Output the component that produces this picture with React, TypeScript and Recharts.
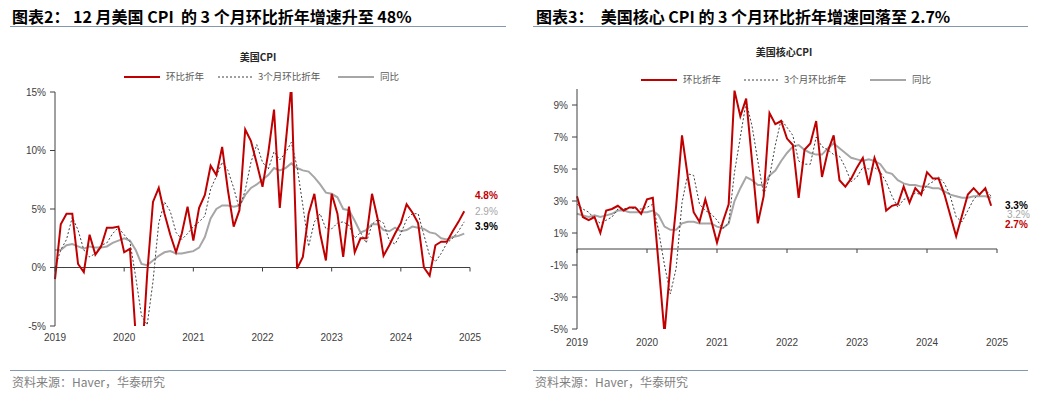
import React from 'react';
import { LineChart, Line, XAxis, YAxis, ReferenceLine } from 'recharts';

// 美国CPI / 美国核心CPI：环比折年、3个月环比折年、同比（月度，2019-01 ~ 2024-12）
const LATIN = '"Liberation Sans", Arial, "Noto Sans CJK SC", sans-serif';
const CJK = '"Noto Sans CJK SC", "Liberation Sans", sans-serif';

const RED = '#c00000';
const DARK = '#404040';
const GREY = '#a6a6a6';
const RULE = '#8397ad';

const yearLabels = ['2019', '2020', '2021', '2022', '2023', '2024', '2025'];
const yearTicks = [0, 12, 24, 36, 48, 60, 72];

// ---- 图表2：美国CPI ----
const cpiMom = [
  -1.0, 3.7, 4.6, 4.6, 0.3, -0.4, 2.8, 1.1, 1.8, 3.4, 3.4, 3.5,
  1.3, 1.6, -5.8, -8.5, -0.5, 5.6, 6.8, 4.6, 2.8, 1.3, 2.9, 5.2,
  2.3, 5.1, 6.2, 8.7, 7.9, 10.3, 6.6, 3.5, 4.9, 11.8, 10.8, 8.9,
  6.9, 9.8, 13.5, 5.1, 10.5, 15.6, -0.1, 0.9, 4.6, 6.3, 2.9, 0.6,
  6.3, 4.6, 0.9, 5.2, 1.3, 2.5, 2.5, 6.3, 4.1, 1.0, 1.9, 2.9,
  3.8, 5.4, 4.7, 3.8, 0.0, -0.7, 1.9, 2.2, 2.2, 3.1, 3.9, 4.8,
];
const cpi3m = [
  0.0, 1.5, 2.4, 4.3, 3.2, 1.5, 0.9, 1.2, 1.9, 2.1, 2.9, 3.4,
  2.8, 2.2, -0.8, -4.1, -4.9, -1.2, 3.8, 5.6, 4.8, 3.0, 2.4, 2.9,
  3.5, 3.9, 4.4, 6.7, 7.8, 9.0, 8.3, 6.8, 5.0, 6.6, 9.0, 10.5,
  9.0, 8.4, 9.9, 9.2, 9.8, 10.7, 8.6, 5.3, 1.8, 3.9, 4.6, 3.3,
  3.3, 3.8, 3.9, 3.6, 2.5, 3.0, 2.1, 3.7, 4.1, 3.8, 2.3, 2.0,
  2.9, 4.1, 4.6, 4.6, 2.8, 1.0, 0.5, 1.2, 2.1, 2.5, 3.1, 3.9,
];
const cpiYoy = [
  1.5, 1.5, 1.9, 2.0, 1.8, 1.6, 1.8, 1.7, 1.7, 1.8, 2.1, 2.3,
  2.5, 2.3, 1.5, 0.3, 0.2, 0.6, 1.0, 1.3, 1.4, 1.2, 1.2, 1.3,
  1.4, 1.7, 2.6, 4.2, 5.0, 5.3, 5.3, 5.2, 5.3, 6.2, 6.8, 7.1,
  7.5, 7.9, 8.5, 8.3, 8.5, 8.9, 8.5, 8.3, 8.2, 7.7, 7.1, 6.4,
  6.3, 6.0, 5.0, 4.9, 4.0, 3.0, 3.2, 3.7, 3.7, 3.2, 3.1, 3.4,
  3.1, 3.2, 3.5, 3.4, 3.3, 3.0, 2.9, 2.5, 2.4, 2.6, 2.7, 2.9,
];

// ---- 图表3：美国核心CPI ----
const coreMom = [
  3.3, 2.0, 1.8, 2.0, 1.0, 2.4, 2.5, 2.7, 2.4, 2.6, 2.6, 2.2,
  3.1, 3.2, -1.0, -5.3, -1.0, 2.7, 7.1, 4.5, 2.3, 1.7, 3.1, 1.8,
  0.4, 1.7, 2.8, 9.9, 8.3, 9.4, 5.5, 1.6, 3.3, 8.5, 7.8, 8.0,
  6.9, 6.5, 3.2, 6.2, 6.6, 8.0, 4.5, 6.1, 7.1, 4.3, 3.9, 4.4,
  5.1, 5.7, 4.0, 5.7, 4.7, 2.4, 2.7, 2.8, 3.9, 2.9, 3.8, 3.4,
  4.8, 4.4, 4.4, 3.4, 2.1, 0.8, 2.1, 3.4, 3.8, 3.4, 3.8, 2.7,
];
const core3m = [
  2.8, 2.5, 2.3, 1.9, 1.6, 1.8, 2.0, 2.5, 2.5, 2.6, 2.5, 2.5,
  2.6, 2.8, 1.1, -1.0, -2.8, -1.2, 2.9, 4.7, 4.6, 2.8, 2.4, 2.2,
  1.8, 1.3, 1.6, 4.8, 7.0, 9.2, 7.7, 5.5, 3.4, 4.5, 6.5, 8.1,
  7.6, 7.1, 5.5, 5.3, 5.3, 7.0, 6.4, 6.2, 5.9, 5.8, 5.1, 4.2,
  4.5, 5.1, 5.0, 5.1, 4.8, 4.2, 3.3, 2.6, 3.1, 3.2, 3.5, 3.4,
  4.0, 4.2, 4.5, 4.1, 3.3, 2.0, 1.7, 2.4, 3.1, 3.5, 3.7, 3.3,
];
const coreYoy = [
  2.2, 2.1, 2.0, 2.1, 2.0, 2.1, 2.2, 2.4, 2.4, 2.3, 2.3, 2.3,
  2.3, 2.4, 2.1, 1.4, 1.2, 1.2, 1.6, 1.7, 1.7, 1.6, 1.6, 1.6,
  1.4, 1.3, 1.6, 3.0, 3.8, 4.5, 4.3, 4.0, 4.0, 4.6, 4.9, 5.5,
  6.0, 6.4, 6.5, 6.2, 6.0, 5.9, 5.9, 6.3, 6.6, 6.3, 6.0, 5.7,
  5.6, 5.5, 5.6, 5.5, 5.3, 4.8, 4.7, 4.3, 4.1, 4.0, 4.0, 3.9,
  3.9, 3.8, 3.8, 3.6, 3.4, 3.3, 3.2, 3.2, 3.3, 3.3, 3.3, 3.2,
];

const legendItems = ['环比折年', '3个月环比折年', '同比'];

const buildRows = (mom: number[], m3: number[], yoy: number[]) =>
  mom.map((v, i) => ({ i, mom: v, m3: m3[i], yoy: yoy[i] }));

const cpiRows = buildRows(cpiMom, cpi3m, cpiYoy);
const coreRows = buildRows(coreMom, core3m, coreYoy);

// year label at the bottom + small tick mark hanging from the 0% line
const YearTick = (props: any) => {
  const { x, y, payload, zeroY, labelGap } = props;
  const idx = yearTicks.indexOf(payload.value);
  return (
    <g>
      <line x1={x} x2={x} y1={zeroY} y2={zeroY + 4} stroke={DARK} strokeWidth={1} />
      <text x={x} y={y + labelGap} dy="0.35em" textAnchor="middle" fontSize={10} fill={DARK} fontFamily={LATIN}>
        {yearLabels[idx]}
      </text>
    </g>
  );
};

function Legend({ y, red, dash, grey }: { y: number; red: number; dash: number; grey: number }) {
  const lw = 36;
  const text = { fontSize: 9.5, fill: '#595959', fontFamily: CJK } as const;
  return (
    <svg style={{ position: 'absolute', left: 0, top: 0, overflow: 'visible' }} width={1} height={1}>
      <line x1={red} x2={red + lw} y1={y} y2={y} stroke={RED} strokeWidth={2} />
      <text x={red + lw + 6} y={y} dy="0.35em" {...text}>{legendItems[0]}</text>
      <line x1={dash} x2={dash + lw} y1={y} y2={y} stroke={DARK} strokeWidth={1} strokeDasharray="2 2" />
      <text x={dash + lw + 4} y={y} dy="0.35em" {...text}>{legendItems[1]}</text>
      <line x1={grey} x2={grey + lw} y1={y} y2={y} stroke={GREY} strokeWidth={2} />
      <text x={grey + lw + 6} y={y} dy="0.35em" {...text}>{legendItems[2]}</text>
    </svg>
  );
}

type ChartCfg = {
  rows: any[];
  left: number;
  width: number;
  margin: { top: number; right: number; bottom: number; left: number };
  yWidth: number;
  domain: [number, number];
  ticks: number[];
  plotH: number;
  labelGap: number;
};

function SeriesChart({ cfg }: { cfg: ChartCfg }) {
  const zeroY = cfg.margin.top + (cfg.plotH * cfg.domain[1]) / (cfg.domain[1] - cfg.domain[0]);
  return (
    <div style={{ position: 'absolute', left: cfg.left, top: 80 }}>
      <LineChart width={cfg.width} height={280} data={cfg.rows} margin={cfg.margin}>
        <XAxis
          dataKey="i"
          type="number"
          domain={[0, 72]}
          ticks={yearTicks}
          axisLine={false}
          tickLine={false}
          tickSize={0}
          tickMargin={0}
          height={20}
          interval={0}
          tick={<YearTick zeroY={zeroY} labelGap={cfg.labelGap} />}
        />
        <YAxis
          domain={cfg.domain}
          ticks={cfg.ticks}
          allowDataOverflow
          width={cfg.yWidth}
          interval={0}
          tickFormatter={(v: number) => `${v}%`}
          axisLine={{ stroke: DARK, strokeWidth: 1 }}
          tickLine={{ stroke: DARK, strokeWidth: 1 }}
          tickSize={5}
          tickMargin={4}
          tick={{ fontSize: 10, fill: DARK, fontFamily: LATIN }}
        />
        <ReferenceLine y={0} stroke={DARK} strokeWidth={1} />
        <Line dataKey="yoy" stroke={GREY} strokeWidth={2} dot={false} isAnimationActive={false} type="linear" />
        <Line dataKey="m3" stroke={DARK} strokeWidth={1} strokeDasharray="2 2" dot={false} isAnimationActive={false} type="linear" />
        <Line dataKey="mom" stroke={RED} strokeWidth={2} dot={false} isAnimationActive={false} type="linear" />
      </LineChart>
    </div>
  );
}

const headStyle: React.CSSProperties = {
  position: 'absolute',
  fontFamily: CJK,
  fontWeight: 700,
  fontSize: 16,
  color: '#000',
  whiteSpace: 'nowrap',
  lineHeight: '18px',
};
const subStyle: React.CSSProperties = {
  position: 'absolute',
  fontFamily: CJK,
  fontWeight: 700,
  fontSize: 10,
  color: '#262626',
  whiteSpace: 'nowrap',
  transform: 'translateX(-50%)',
  lineHeight: '12px',
};
const srcStyle: React.CSSProperties = {
  position: 'absolute',
  fontFamily: CJK,
  fontSize: 12,
  color: '#7f7f7f',
  whiteSpace: 'nowrap',
  lineHeight: '14px',
};
const endLabel = (top: number, left: number, color: string, bold: boolean): React.CSSProperties => ({
  position: 'absolute',
  top: top - 4.5,
  left,
  color,
  fontFamily: LATIN,
  fontSize: 10,
  fontWeight: bold ? 700 : 400,
  lineHeight: '9px',
  height: 9,
  whiteSpace: 'nowrap',
});

export default function App() {
  const cpiCfg: ChartCfg = {
    rows: cpiRows,
    left: 0,
    width: 520,
    margin: { top: 12, right: 50, bottom: 14, left: 10 },
    yWidth: 45,
    domain: [-5, 15],
    ticks: [-5, 0, 5, 10, 15],
    plotH: 234,
    labelGap: 11,
  };
  const coreCfg: ChartCfg = {
    rows: coreRows,
    left: 520,
    width: 522,
    margin: { top: 9, right: 45, bottom: 11, left: 10 },
    yWidth: 47,
    domain: [-5, 10],
    ticks: [-5, -3, -1, 1, 3, 5, 7, 9],
    plotH: 240,
    labelGap: 13,
  };

  return (
    <div style={{ position: 'absolute', left: 0, top: 0, width: 1042, height: 397, background: '#fff', overflow: 'hidden' }}>
      {/* 左：图表2 */}
      <div style={{ ...headStyle, left: 12, top: 7 }}>图表2：&nbsp;12 月美国 CPI&nbsp; 的 3 个月环比折年增速升至 48%</div>
      <div style={{ position: 'absolute', left: 10, top: 26, width: 496, height: 1, background: RULE }} />
      <div style={{ ...subStyle, left: 258, top: 51 }}>美国CPI</div>
      <SeriesChart cfg={cpiCfg} />
      <Legend y={77} red={124} dash={218} grey={338} />
      <div style={endLabel(195, 475, RED, true)}>4.8%</div>
      <div style={endLabel(211, 475, GREY, false)}>2.9%</div>
      <div style={endLabel(226, 475, '#000', true)}>3.9%</div>
      <div style={{ position: 'absolute', left: 10, top: 370, width: 496, height: 1, background: RULE }} />
      <div style={{ ...srcStyle, left: 12, top: 375 }}>资料来源：Haver，华泰研究</div>

      {/* 右：图表3 */}
      <div style={{ ...headStyle, left: 536, top: 7 }}>图表3：&nbsp; 美国核心 CPI 的 3 个月环比折年增速回落至 2.7%</div>
      <div style={{ position: 'absolute', left: 533, top: 26, width: 495, height: 1, background: RULE }} />
      <div style={{ ...subStyle, left: 784, top: 46 }}>美国核心CPI</div>
      <SeriesChart cfg={coreCfg} />
      <Legend y={80} red={641} dash={744} grey={870} />
      <div style={endLabel(205, 1005, '#000', true)}>3.3%</div>
      <div style={endLabel(214.5, 1007, GREY, false)}>3.2%</div>
      <div style={endLabel(224.5, 1005, RED, true)}>2.7%</div>
      <div style={{ position: 'absolute', left: 533, top: 370, width: 495, height: 1, background: RULE }} />
      <div style={{ ...srcStyle, left: 535, top: 375 }}>资料来源：Haver，华泰研究</div>
    </div>
  );
}
